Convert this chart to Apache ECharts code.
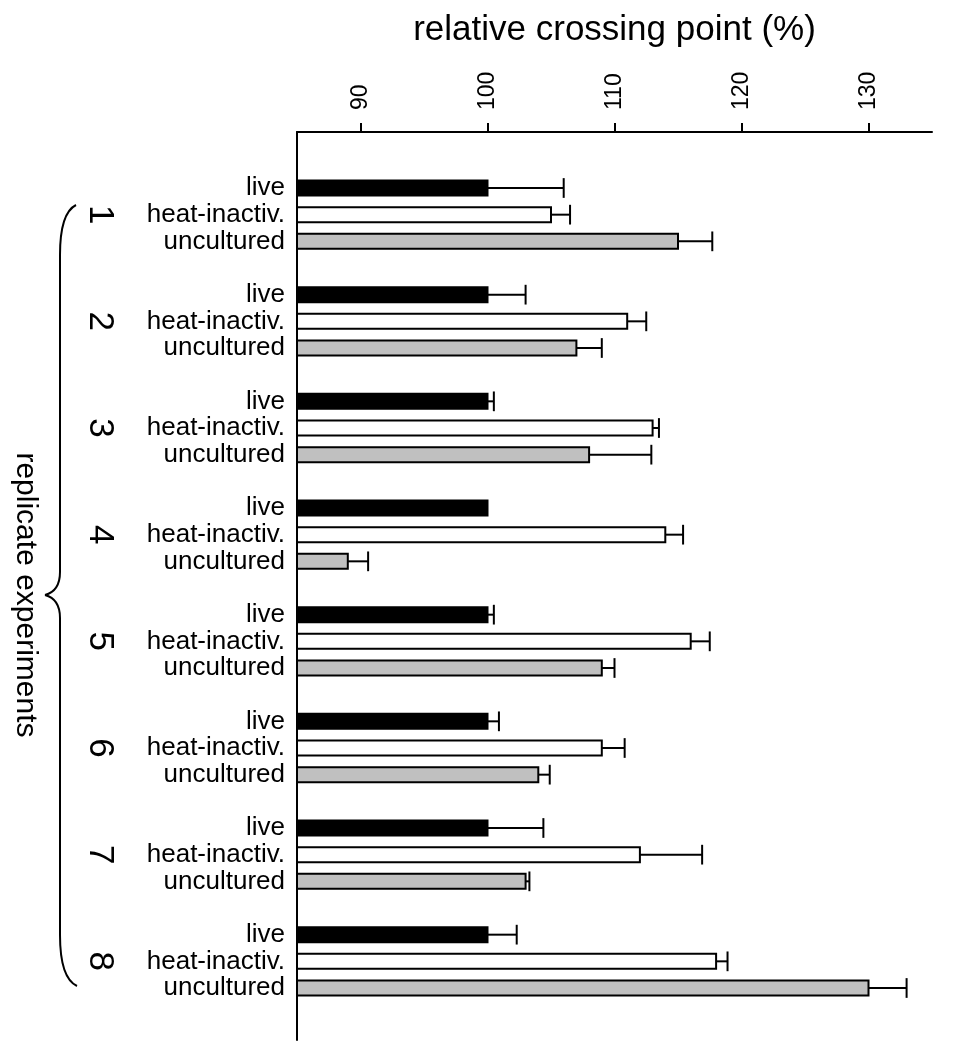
<!DOCTYPE html>
<html>
<head>
<meta charset="utf-8">
<script src="https://cdn.jsdelivr.net/npm/echarts@6/dist/echarts.min.js"></script>
<style>
html,body{margin:0;padding:0;background:#fff;}
#chart{width:958px;height:1050px;}
</style>
</head>
<body>
<div id="chart"></div>
<script>
// ---- data ----
const groups = ['1', '2', '3', '4', '5', '6', '7', '8'];
const conditions = ['live', 'heat-inactiv.', 'uncultured'];
const liveVals = [100, 100, 100, 100, 100, 100, 100, 100];
const liveErr  = [6.0, 3.0, 0.5, 0, 0.5, 0.9, 4.4, 2.3];
const heatVals = [105.0, 111.0, 113.0, 114.0, 116.0, 109.0, 112.0, 118.0];
const heatErr  = [1.5, 1.5, 0.5, 1.4, 1.5, 1.8, 4.9, 0.9];
const uncVals  = [115.0, 107.0, 108.0, 89.0, 109.0, 104.0, 103.0, 130.0];
const uncErr   = [2.7, 2.0, 4.9, 1.6, 1.0, 0.9, 0.3, 3.0];
const xTicks = [90, 100, 110, 120, 130];
const xTitle = 'relative crossing point (%)';
const sideTitle = 'replicate experiments';

// ---- layout helpers ----
const X_MIN = 85, X_MAX = 135;
const SLOTS = 4; // 3 bars + gap per group
const Y_MIN = -2.1, Y_MAX = 31.95;
const FONT = "'Liberation Sans', Arial, Helvetica, sans-serif";

const valueSets = [liveVals, heatVals, uncVals];
const errSets = [liveErr, heatErr, uncErr];
const fills = ['#000000', '#ffffff', '#c0c0c0'];

const catPositions = [];
const groupPositions = [];
groups.forEach((g, gi) => {
  conditions.forEach((c, ci) => catPositions.push(gi * SLOTS + ci));
  groupPositions.push(gi * SLOTS + 1);
});

function makeRender(fill) {
  return function (params, api) {
    const v = api.value(0), e = api.value(1), p = api.value(2);
    const base = api.coord([X_MIN, p]);
    const end = api.coord([v, p]);
    const unit = api.size([0, 1])[1];
    const h = unit * 0.56;
    const capH = unit * 0.74;
    const children = [{
      type: 'rect',
      shape: { x: base[0], y: base[1] - h / 2, width: end[0] - base[0], height: h },
      style: { fill: fill, stroke: '#000', lineWidth: 2 }
    }];
    if (e > 0) {
      const ee = api.coord([v + e, p]);
      children.push({
        type: 'line',
        shape: { x1: end[0], y1: end[1], x2: ee[0], y2: ee[1] },
        style: { stroke: '#000', lineWidth: 2 }
      });
      children.push({
        type: 'line',
        shape: { x1: ee[0], y1: ee[1] - capH / 2, x2: ee[0], y2: ee[1] + capH / 2 },
        style: { stroke: '#000', lineWidth: 2 }
      });
    }
    return { type: 'group', children: children };
  };
}

const series = conditions.map((c, ci) => ({
  name: c,
  type: 'custom',
  xAxisIndex: 0,
  yAxisIndex: 0,
  renderItem: makeRender(fills[ci]),
  encode: { x: 0, y: 2 },
  data: groups.map((g, gi) => [valueSets[ci][gi], errSets[ci][gi], gi * SLOTS + ci]),
  silent: true,
  z: 3
}));

const braceStyle = { fill: 'none', stroke: '#000', lineWidth: 2 };
function bez(x1, y1, cx, cy, x2, y2) {
  return { type: 'bezierCurve', shape: { x1: x1, y1: y1, cpx1: cx, cpy1: cy, x2: x2, y2: y2 }, style: braceStyle };
}
function seg(x1, y1, x2, y2) {
  return { type: 'line', shape: { x1: x1, y1: y1, x2: x2, y2: y2 }, style: braceStyle };
}

const chart = echarts.init(document.getElementById('chart'), null, { renderer: 'canvas' });
chart.setOption({
  animation: false,
  backgroundColor: '#ffffff',
  textStyle: { fontFamily: FONT },
  grid: [
    { left: 297, right: 26, top: 132, bottom: 10, containLabel: false },
    { left: 130, width: 10, top: 132, bottom: 10, containLabel: false }
  ],
  xAxis: [{
    gridIndex: 0,
    type: 'value',
    position: 'top',
    min: X_MIN,
    max: X_MAX,
    name: xTitle,
    nameLocation: 'middle',
    nameGap: 84,
    nameTextStyle: { fontSize: 35, color: '#000', fontFamily: FONT },
    axisLine: { show: true, onZero: false, lineStyle: { color: '#000', width: 2 } },
    axisTick: { show: true, inside: false, length: 9, customValues: xTicks, lineStyle: { color: '#000', width: 2 } },
    axisLabel: { show: true, rotate: -90, margin: 22, fontSize: 23, color: '#000', fontFamily: FONT, customValues: xTicks },
    splitLine: { show: false }
  }, {
    gridIndex: 1,
    type: 'value',
    show: false,
    min: 0, max: 1
  }],
  yAxis: [{
    gridIndex: 0,
    type: 'value',
    inverse: true,
    min: Y_MIN,
    max: Y_MAX,
    axisLine: { show: true, onZero: false, lineStyle: { color: '#000', width: 2 } },
    axisTick: { show: false },
    axisLabel: {
      show: true, margin: 12, fontSize: 26, color: '#000', fontFamily: FONT,
      customValues: catPositions,
      formatter: function (val) { return conditions[Math.round(val) % SLOTS] || ''; }
    },
    splitLine: { show: false }
  }, {
    gridIndex: 1,
    type: 'value',
    inverse: true,
    min: Y_MIN,
    max: Y_MAX,
    axisLine: { show: false },
    axisTick: { show: false },
    axisLabel: {
      show: true, margin: 13, fontSize: 35, rotate: -90, color: '#000', fontFamily: FONT,
      customValues: groupPositions,
      formatter: function (val) { return groups[Math.round((val - 1) / SLOTS)] || ''; }
    },
    splitLine: { show: false }
  }],
  series: series,
  graphic: [
    bez(76, 205, 60, 213, 60, 255),
    seg(60, 255, 60, 572),
    bez(60, 572, 60, 591, 45, 595),
    bez(45, 595, 60, 599, 60, 618),
    seg(60, 618, 60, 935),
    bez(60, 935, 60, 978, 77, 986),
    {
      type: 'text',
      x: 25, y: 595,
      rotation: -Math.PI / 2,
      style: { text: sideTitle, fontSize: 30, fontFamily: FONT, fill: '#000', align: 'center', verticalAlign: 'middle' }
    }
  ]
});
</script>
</body>
</html>
